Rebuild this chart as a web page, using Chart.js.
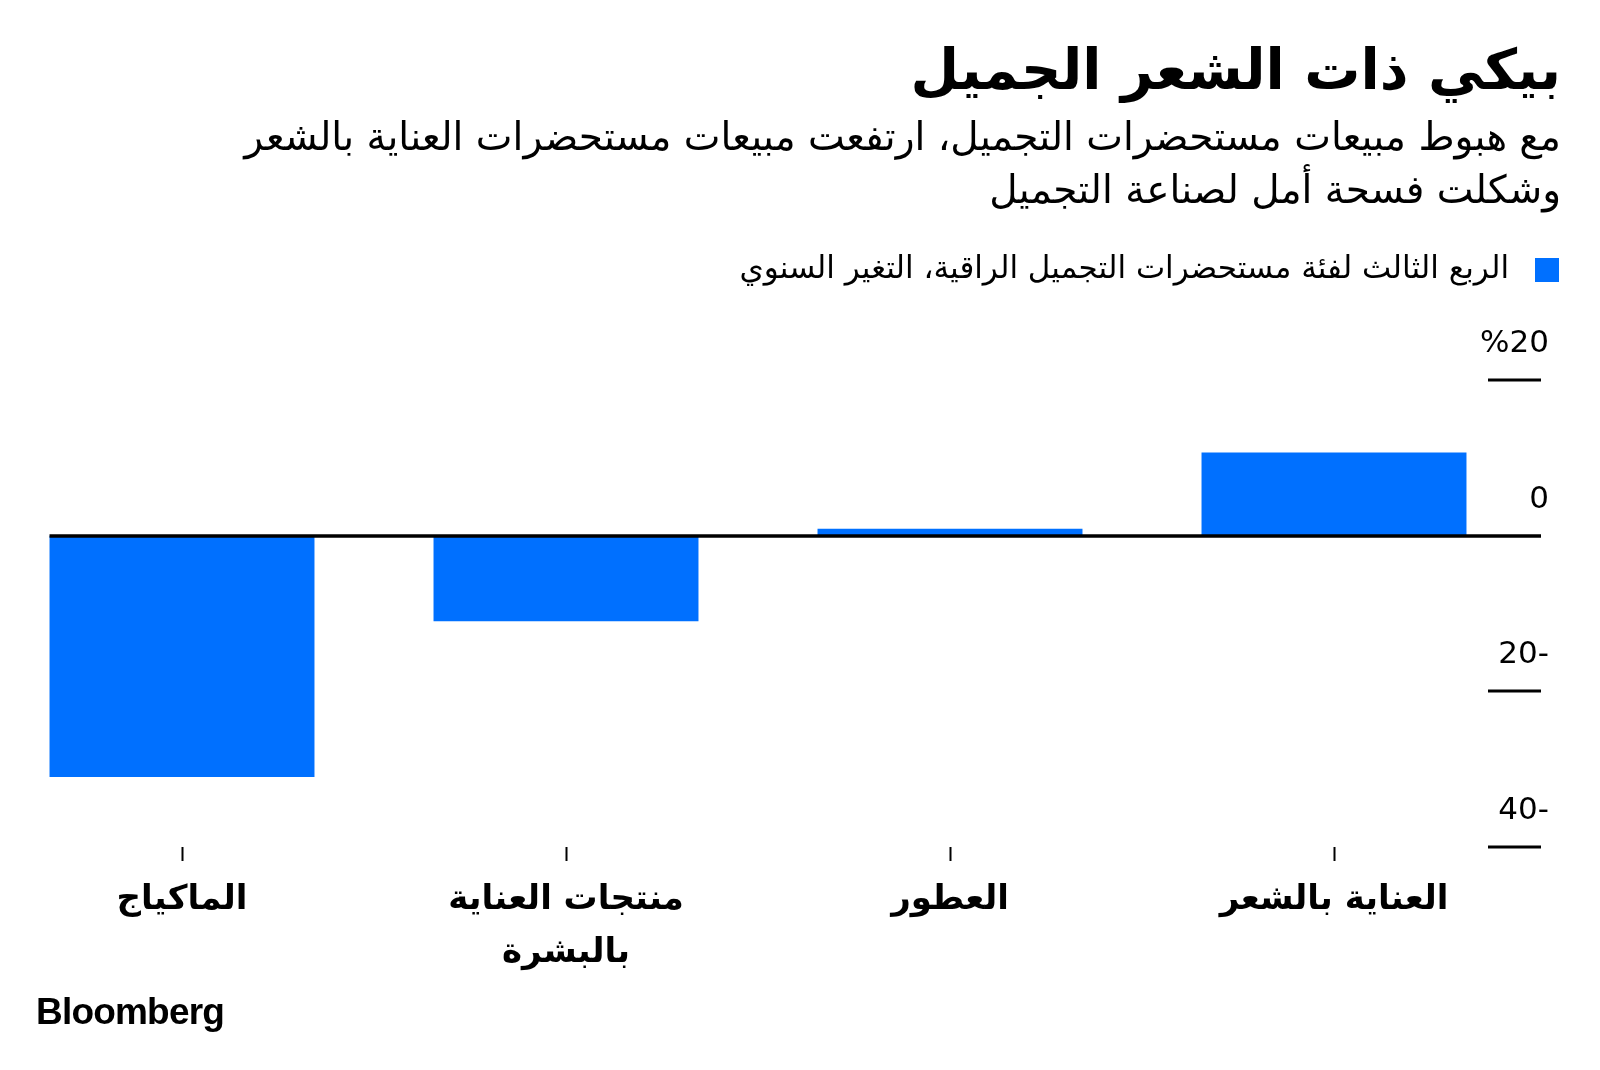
<!DOCTYPE html>
<html lang="ar">
<head>
<meta charset="utf-8">
<script src="https://cdn.jsdelivr.net/npm/chart.js@4.4.1/dist/chart.umd.min.js"></script>
<style>
  html, body { margin: 0; padding: 0; background: #fff; }
  body { width: 1600px; height: 1070px; position: relative; overflow: hidden; font-family: 'DejaVu Sans', sans-serif; color: #000; }
  #chart { position: absolute; left: 0; top: 0; }
  .txt { position: absolute; right: 39px; direction: rtl; text-align: right; white-space: nowrap; }
  #title { top: 30px; font-size: 56px; font-weight: bold; line-height: 80px; }
  #subtitle { top: 110px; font-size: 39px; line-height: 53px; }
  #legend { top: 247px; right: 41px; font-size: 31px; line-height: 40px; }
  #legend .box { display: inline-block; width: 24px; height: 24px; background: #0070ff; margin-left: 26px; vertical-align: -4px; }
  #logo { position: absolute; left: 36px; top: 991px; font-family: 'Liberation Sans', Arial, sans-serif; font-weight: bold; font-size: 37px; letter-spacing: -0.8px; }
</style>
</head>
<body>
<canvas id="chart" width="1600" height="1070"></canvas>
<div class="txt" id="title">بيكي ذات الشعر الجميل</div>
<div class="txt" id="subtitle">مع هبوط مبيعات مستحضرات التجميل، ارتفعت مبيعات مستحضرات العناية بالشعر<br>وشكلت فسحة أمل لصناعة التجميل</div>
<div class="txt" id="legend"><span class="box"></span>الربع الثالث لفئة مستحضرات التجميل الراقية، التغير السنوي</div>
<div id="logo">Bloomberg</div>
<script>
// --- DATA ---
const categories = ['الماكياج', ['منتجات العناية', 'بالبشرة'], 'العطور', 'العناية بالشعر'];
const yoyChange = [-31, -11, 0.9, 10.7]; // التغير السنوي %
const yTickValues = [20, 0, -20, -40];
const yTickLabels = ['%20', '0', '20-', '40-'];

const BLUE = '#0070ff';
const FONT = "'DejaVu Sans', sans-serif";

// garis nol + tick sumbu y di kanan (pakai skala y dari chart)
const rightAxisPlugin = {
    id: 'rightAxis',
    afterDatasetsDraw(chart) {
        const ctx = chart.ctx;
        const y = chart.scales.y;
        const bars = chart.getDatasetMeta(0).data;
        const lineLeft = bars[0].x - bars[0].width / 2;
        const tickLeft = 1488, tickRight = 1541;

        ctx.save();
        ctx.strokeStyle = '#000';
        ctx.fillStyle = '#000';
        ctx.font = '31px ' + FONT;
        ctx.textAlign = 'right';
        ctx.textBaseline = 'middle';

        yTickValues.forEach((v, i) => {
            const py = Math.round(y.getPixelForValue(v));
            ctx.lineWidth = v === 0 ? 3.5 : 3;
            ctx.beginPath();
            ctx.moveTo(v === 0 ? lineLeft : tickLeft, py);
            ctx.lineTo(tickRight, py);
            ctx.stroke();
            ctx.fillText(yTickLabels[i], 1549, py - 36);
        });
        ctx.restore();
    }
};

const ctx = document.getElementById('chart').getContext('2d');
new Chart(ctx, {
    type: 'bar',
    data: {
        labels: categories,
        datasets: [{
            label: 'الربع الثالث لفئة مستحضرات التجميل الراقية، التغير السنوي',
            data: yoyChange,
            backgroundColor: BLUE,
            borderWidth: 0,
            barPercentage: 0.69,
            categoryPercentage: 1,
            clip: false
        }]
    },
    options: {
        responsive: false,
        animation: false,
        layout: {
            padding: { left: 182, right: 266, top: 380, bottom: 93 }
        },
        scales: {
            x: {
                offset: false,
                border: { display: false },
                grid: {
                    offset: false,
                    drawOnChartArea: false,
                    drawTicks: true,
                    tickLength: 14,
                    tickWidth: 2,
                    tickColor: '#000'
                },
                ticks: {
                    color: '#000',
                    font: { family: FONT, size: 34, weight: 'bold', lineHeight: 1.55 },
                    padding: 13,
                    maxRotation: 0,
                    autoSkip: false
                },
                afterFit: (scale) => { scale.height = 130; }
            },
            y: {
                display: false,
                min: -40,
                max: 20
            }
        },
        plugins: {
            legend: { display: false },
            tooltip: { enabled: false }
        }
    },
    plugins: [rightAxisPlugin]
});
</script>
</body>
</html>
